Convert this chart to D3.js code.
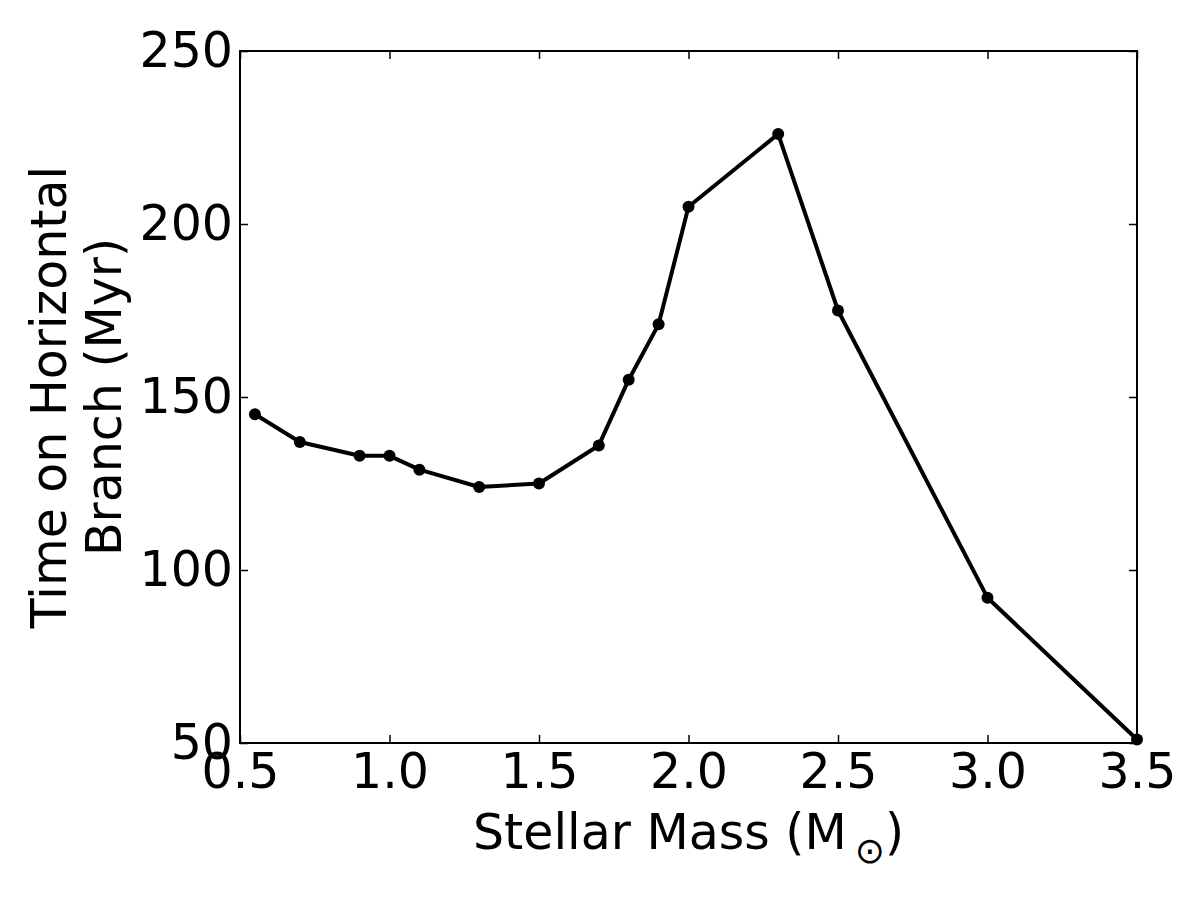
<!DOCTYPE html>
<html>
<head>
<meta charset="utf-8">
<script src="https://cdn.jsdelivr.net/npm/d3@7"></script>
<style>
  body { margin: 0; background: #fff; }
  text { font-family: "DejaVu Sans", sans-serif; fill: #000; }
</style>
</head>
<body>
<svg id="graph" width="1200" height="900"></svg>
<script>
// データ
var mass = [0.55, 0.7, 0.9, 1.0, 1.1, 1.3, 1.5, 1.7, 1.8, 1.9, 2.0, 2.3, 2.5, 3.0, 3.5];
var timeHB = [145, 137, 133, 133, 129, 124, 125, 136, 155, 171, 205, 226, 175, 92, 51];
var xTicks = [0.5, 1.0, 1.5, 2.0, 2.5, 3.0, 3.5];
var yTicks = [50, 100, 150, 200, 250];

var margin = {top: 51, right: 63, bottom: 157, left: 240};
var width = 1200 - margin.left - margin.right;
var height = 900 - margin.top - margin.bottom;
var fs = 49;

var svg = d3.select("#graph")
  .append("g")
  .attr("transform", "translate(" + margin.left + "," + margin.top + ")");

var xScale = d3.scaleLinear().domain([0.5, 3.5]).range([0, width]);
var yScale = d3.scaleLinear().domain([50, 250]).range([height, 0]);

// 目盛り（内向き、四辺）
function styleAxis(g) {
  g.select(".domain").remove();
  g.selectAll(".tick line").attr("stroke", "#000").attr("stroke-width", 1.5);
  g.selectAll(".tick text").style("font-size", fs + "px").style("font-family", "DejaVu Sans");
}
svg.append("g")
  .attr("transform", "translate(0," + height + ")")
  .call(d3.axisBottom(xScale).tickValues(xTicks).tickFormat(d3.format(".1f")).tickSizeInner(-8).tickSizeOuter(0).tickPadding(10))
  .call(styleAxis);
svg.append("g")
  .call(d3.axisTop(xScale).tickValues(xTicks).tickSizeInner(-8).tickSizeOuter(0).tickFormat(""))
  .call(styleAxis);
svg.append("g")
  .call(d3.axisLeft(yScale).tickValues(yTicks).tickFormat(d3.format("d")).tickSizeInner(-8).tickSizeOuter(0).tickPadding(7))
  .call(styleAxis);
svg.append("g")
  .attr("transform", "translate(" + width + ",0)")
  .call(d3.axisRight(yScale).tickValues(yTicks).tickSizeInner(-8).tickSizeOuter(0).tickFormat(""))
  .call(styleAxis);

// 枠
svg.append("rect")
  .attr("width", width).attr("height", height)
  .attr("fill", "none").attr("stroke", "#000").attr("stroke-width", 2);

// 折れ線
var pts = mass.map(function(m, i) { return {x: m, y: timeHB[i]}; });
var line = d3.line()
  .x(function(d) { return xScale(d.x); })
  .y(function(d) { return yScale(d.y); });
svg.append("path")
  .datum(pts)
  .attr("d", line)
  .attr("fill", "none")
  .attr("stroke", "#000")
  .attr("stroke-width", 4)
  .attr("stroke-linejoin", "round");
svg.selectAll("circle.pt")
  .data(pts)
  .enter()
  .append("circle")
  .attr("class", "pt")
  .attr("cx", function(d) { return xScale(d.x); })
  .attr("cy", function(d) { return yScale(d.y); })
  .attr("r", 6)
  .attr("fill", "#000");

// 軸ラベル
var xl = svg.append("text")
  .attr("x", width / 2)
  .attr("y", height + 106)
  .attr("text-anchor", "middle")
  .style("font-size", fs + "px");
xl.append("tspan").text("Stellar Mass (M");
xl.append("tspan").attr("dx", 8).attr("dy", 14).style("font-size", "36px").text("\u2299");
xl.append("tspan").attr("dy", -14).text(")");

var yl = svg.append("text")
  .attr("transform", "rotate(-90)")
  .attr("text-anchor", "middle")
  .style("font-size", fs + "px");
yl.append("tspan").attr("x", -height / 2).attr("y", 66 - margin.left).text("Time on Horizontal");
yl.append("tspan").attr("x", -height / 2).attr("y", 121 - margin.left).text("Branch (Myr)");
</script>
</body>
</html>
